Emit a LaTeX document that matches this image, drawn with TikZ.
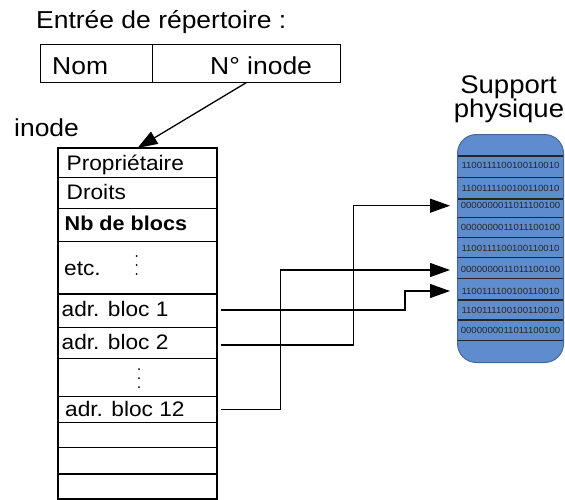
\documentclass[tikz,border=0pt]{standalone}
\usepackage{fontspec}
\setmainfont[FakeStretch=1.08]{Liberation Sans}
\usetikzlibrary{arrows.meta}
\definecolor{diskfill}{RGB}{95,140,205}
\definecolor{diskline}{RGB}{65,105,160}
\begin{document}
\begin{tikzpicture}[x=1pt,y=-1pt,
  big/.style={font=\fontsize{24.5}{28}\selectfont, inner sep=0, anchor=base west},
  celltxt/.style={font=\fontsize{21}{25}\selectfont, inner sep=0, anchor=base west},
  cell/.style={draw, line width=1.2pt, minimum width=159pt, inner sep=0, outer sep=0, anchor=north west},
  entry/.style={draw, line width=1pt, minimum height=38pt, inner sep=0, outer sep=0, anchor=north west},
  bits/.style={font=\fontsize{8.9}{11}\selectfont, inner sep=0, text=black!85},
  arr/.style={line width=1.3pt, -{Triangle[length=20pt,width=14pt]}},
  dotmark/.style={circle, fill, inner sep=0, minimum size=2pt}
]
\useasboundingbox (0,0) rectangle (565,499);

% title and entry
\node[big] (title) at (36,28.3) {Entrée de répertoire :};
\node[entry, minimum width=112pt] (nom) at (40.5,44.5) {};
\node[entry, minimum width=188pt] (ninode) at (152.5,44.5) {};
\node[big] (nomt) at (52,74) {Nom};
\node[big] (ninodet) at (210,74) {N° inode};
\node[big] (inodelbl) at (14,136.7) {inode};

% inode table
\node[cell, minimum height=29.7pt] (r1) at (58,148) {};
\node[cell, minimum height=30.6pt] (r2) at (58,177.7) {};
\node[cell, minimum height=33.4pt] (r3) at (58,208.3) {};
\node[cell, minimum height=52.3pt] (r4) at (58,241.7) {};
\node[cell, minimum height=33.7pt] (r5) at (58,294) {};
\node[cell, minimum height=30.6pt] (r6) at (58,327.7) {};
\node[cell, minimum height=38.4pt] (r7) at (58,358.3) {};
\node[cell, minimum height=25.6pt] (r8) at (58,396.7) {};
\node[cell, minimum height=25.4pt] (r9) at (58,422.3) {};
\node[cell, minimum height=26.3pt] (r10) at (58,447.7) {};
\node[cell, minimum height=25pt] (r11) at (58,474) {};

\node[celltxt] (t1) at (66.5,170) {Propriétaire};
\node[celltxt] (t2) at (66.5,199.3) {Droits};
\node[celltxt, font=\fontsize{20}{24}\selectfont\bfseries] (t3) at (64.5,230) {Nb de blocs};
\node[celltxt] (t4) at (64,275) {etc.};
\node[celltxt] (t5) at (61.5,316.7) {adr. bloc 1};
\node[celltxt] (t6) at (61.5,349) {adr. bloc 2};
\node[celltxt] (t7) at (65,416.7) {adr. bloc 12};

\foreach \yy [count=\i] in {256,265,274} \node[dotmark] (da\i) at (136.7,\yy) {};
\foreach \yy [count=\i] in {369,378,387} \node[dotmark] (db\i) at (139,\yy) {};

% arrow from entry to inode
\draw[arr] (ninode.south) -- (r1.north);

% physical support
\node[font=\fontsize{25.5}{29}\selectfont, inner sep=0, anchor=base] (sup1) at (508.5,93.3) {Support};
\node[font=\fontsize{25.5}{29}\selectfont, inner sep=0, anchor=base] (sup2) at (509,117.5) {physique};
\node[draw=diskline, line width=1pt, fill=diskfill, rounded corners=19pt, minimum width=106pt, minimum height=228pt, anchor=north west, inner sep=0] (disk) at (457,134) {};
\foreach \yy in {156,177.7,199,217.3,237.3,257.7,278.7,300,320,340.7}
  \draw[line width=1.4pt, black!85] (457.5,\yy) -- (562.5,\yy);

\node[bits] (b1) at (510.5,165.7) {1100111100100110010};
\node[bits] (b2) at (510.5,188.3) {1100111100100110010};
\node[bits] (b3) at (510.5,205.7) {0000000011011100100};
\node[bits] (b4) at (510.5,227.3) {0000000011011100100};
\node[bits] (b5) at (510.5,248.3) {1100111100100110010};
\node[bits] (b6) at (510.5,269.3) {0000000011011100100};
\node[bits] (b7) at (510.5,291.3) {1100111100100110010};
\node[bits] (b8) at (510.5,310) {1100111100100110010};
\node[bits] (b9) at (510.5,330.7) {0000000011011100100};

% connectors
\coordinate (s1) at (220.7,310);
\coordinate (s2) at (220.7,345);
\coordinate (s3) at (220.7,409.3);
\coordinate (e1) at (450,291);
\coordinate (e2) at (450,205.7);
\coordinate (e3) at (450,270);
\draw[arr] (s1) -- ++(184.3,0) |- (e1);
\draw[arr] (s2) -- ++(132.8,0) |- (e2);
\draw[arr] (s3) -- ++(60,0) |- (e3);
\end{tikzpicture}
\end{document}
